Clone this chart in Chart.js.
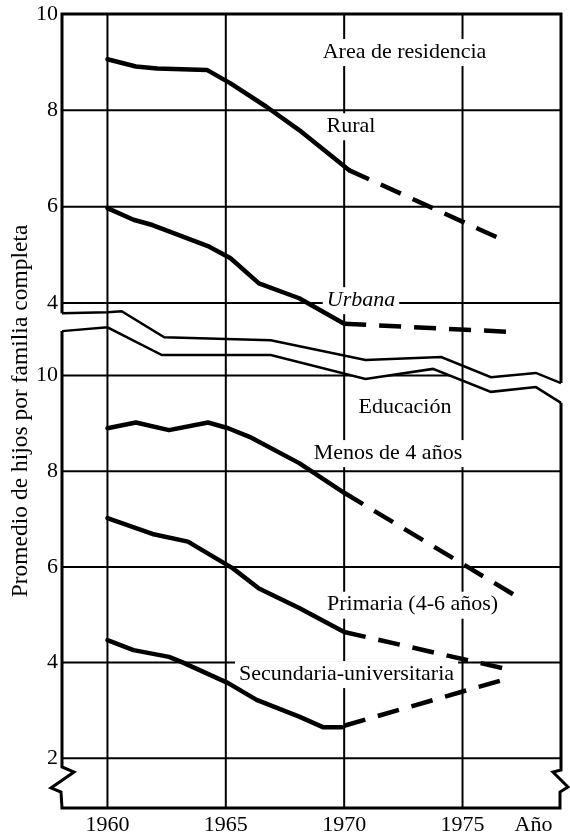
<!DOCTYPE html>
<html>
<head>
<meta charset="utf-8">
<script src="https://cdn.jsdelivr.net/npm/chart.js@4.4.0/dist/chart.umd.min.js"></script>
<style>
    html, body { margin: 0; padding: 0; background: #fff; }
    #wrap { position: relative; width: 570px; height: 837px; }
</style>
</head>
<body>
<div id="wrap"><canvas id="chart"></canvas></div>
<script>
// Axis ticks
const gridYears = [1960, 1965, 1970, 1975];
const xTickValues = [1960, 1965, 1970, 1975, 1978];
const xTickLabels = ["1960", "1965", "1970", "1975", "Año"];
const topTicks = [4, 6, 8, 10];
const bottomTicks = [2, 4, 6, 8, 10];

// Area de residencia (upper panel)
const ruralYears = [1960, 1961.2, 1962.1, 1964.2, 1965.2, 1966.7, 1968.1, 1970.2];
const ruralValues = [9.06, 8.91, 8.87, 8.84, 8.56, 8.08, 7.59, 6.76];
const ruralProjYears = [1970.2, 1976.7];
const ruralProjValues = [6.76, 5.31];

const urbanaYears = [1960, 1961.1, 1961.9, 1964.3, 1965.2, 1966.4, 1968.1, 1970];
const urbanaValues = [5.97, 5.73, 5.62, 5.17, 4.93, 4.41, 4.10, 3.57];
const urbanaProjYears = [1970, 1977.1];
const urbanaProjValues = [3.57, 3.40];

// Educación (lower panel)
const menosYears = [1960, 1961.2, 1962.6, 1964.25, 1965.1, 1966.0, 1968.1, 1970];
const menosValues = [8.90, 9.02, 8.86, 9.02, 8.90, 8.72, 8.17, 7.55];
const menosProjYears = [1970, 1977.2];
const menosProjValues = [7.55, 5.41];

const primariaYears = [1960, 1961.9, 1963.4, 1965.3, 1966.4, 1968.1, 1970];
const primariaValues = [7.02, 6.69, 6.53, 5.97, 5.55, 5.14, 4.64];
const primariaProjYears = [1970, 1977];
const primariaProjValues = [4.64, 3.85];

const secundariaYears = [1960, 1961.1, 1962.6, 1963.1, 1965.1, 1966.3, 1968.1, 1969.1, 1969.9];
const secundariaValues = [4.47, 4.26, 4.12, 4.02, 3.57, 3.22, 2.87, 2.65, 2.65];
const secundariaProjYears = [1970, 1977];
const secundariaProjValues = [2.68, 3.68];

// Broken axis: lower edge of the upper panel, upper edge of the lower panel
const upperEdgeYears = [1958.08, 1960, 1960.6, 1962.4, 1966.9, 1970.9, 1974.1, 1976.2, 1978.1, 1979.16];
const upperEdgeValues = [3.79, 3.81, 3.83, 3.29, 3.23, 2.82, 2.88, 2.46, 2.55, 2.34];
const lowerEdgeYears = [1958.08, 1960, 1962.3, 1966.9, 1970.9, 1973.75, 1976.2, 1978.1, 1979.16];
const lowerEdgeValues = [10.93, 11.01, 10.43, 10.43, 9.93, 10.14, 9.66, 9.76, 9.43];

// Text placed inside the plot (year, value, axis)
const notes = [
    { text: "Area de residencia", x: 1972.55, y: 9.21, axis: "yTop" },
    { text: "Rural", x: 1970.29, y: 7.67, axis: "yTop" },
    { text: "Urbana", x: 1970.71, y: 4.06, axis: "yTop", italic: true },
    { text: "Educación", x: 1972.57, y: 9.33, axis: "yBot" },
    { text: "Menos de 4 años", x: 1971.85, y: 8.38, axis: "yBot" },
    { text: "Primaria (4-6 años)", x: 1972.89, y: 5.21, axis: "yBot" },
    { text: "Secundaria-universitaria", x: 1970.1, y: 3.76, axis: "yBot" }
];

const FONT = "'Liberation Serif', 'DejaVu Serif', serif";
Chart.defaults.font.family = FONT;
Chart.defaults.color = "#000";

function toPoints(xs, ys) {
    return xs.map((x, i) => ({ x: x, y: ys[i] }));
}

function series(xs, ys, axis, dashed) {
    return {
        data: toPoints(xs, ys),
        yAxisID: axis,
        borderColor: "#000",
        borderWidth: 4.5,
        borderDash: dashed ? [22, 13] : [],
        borderCapStyle: dashed ? "butt" : "round",
        borderJoinStyle: "round",
        pointRadius: 0,
        tension: 0,
        fill: false
    };
}

function edge(xs, ys, axis) {
    return {
        data: toPoints(xs, ys),
        yAxisID: axis,
        borderColor: "#000",
        borderWidth: 2.5,
        borderJoinStyle: "miter",
        pointRadius: 0,
        tension: 0,
        fill: false,
        clip: false
    };
}

const datasets = [
    series(ruralYears, ruralValues, "yTop", false),
    series(ruralProjYears, ruralProjValues, "yTop", true),
    series(urbanaYears, urbanaValues, "yTop", false),
    series(urbanaProjYears, urbanaProjValues, "yTop", true),
    series(menosYears, menosValues, "yBot", false),
    series(menosProjYears, menosProjValues, "yBot", true),
    series(primariaYears, primariaValues, "yBot", false),
    series(primariaProjYears, primariaProjValues, "yBot", true),
    series(secundariaYears, secundariaValues, "yBot", false),
    series(secundariaProjYears, secundariaProjValues, "yBot", true),
    edge(upperEdgeYears, upperEdgeValues, "yTop"),
    edge(lowerEdgeYears, lowerEdgeValues, "yBot")
];
const upperEdgeIndex = datasets.length - 2;
const lowerEdgeIndex = datasets.length - 1;

function stroke(c, pts) {
    c.beginPath();
    c.moveTo(pts[0][0], pts[0][1]);
    pts.slice(1).forEach(p => c.lineTo(p[0], p[1]));
    c.stroke();
}

function clipTo(c, pts) {
    c.beginPath();
    c.moveTo(pts[0][0], pts[0][1]);
    pts.slice(1).forEach(p => c.lineTo(p[0], p[1]));
    c.closePath();
    c.clip();
}

// Grid, notes and frame of the two-panel (broken) chart
const brokenAxisPlugin = {
    id: "brokenAxis",
    beforeDatasetsDraw(chart) {
        const { ctx: c, chartArea: a, scales } = chart;
        const up = chart.getDatasetMeta(upperEdgeIndex).data.map(p => [p.x, p.y]);
        const low = chart.getDatasetMeta(lowerEdgeIndex).data.map(p => [p.x, p.y]);
        c.save();
        c.strokeStyle = "#000";
        c.lineWidth = 2;

        // vertical grid lines cross both panels
        gridYears.forEach(yr => {
            const px = scales.x.getPixelForValue(yr);
            stroke(c, [[px, a.top], [px, a.bottom]]);
        });

        // upper panel lines stay above its lower edge
        c.save();
        clipTo(c, [[a.left, a.top], [a.right, a.top]].concat(up.slice().reverse()));
        topTicks.forEach(v => {
            const py = scales.yTop.getPixelForValue(v);
            stroke(c, [[a.left, py], [a.right, py]]);
        });
        c.restore();

        // lower panel lines stay below its upper edge
        c.save();
        clipTo(c, low.concat([[a.right, a.bottom], [a.left, a.bottom]]));
        bottomTicks.forEach(v => {
            const py = scales.yBot.getPixelForValue(v);
            stroke(c, [[a.left, py], [a.right, py]]);
        });
        c.restore();

        // tick labels of the upper panel, same style as the lower axis
        c.fillStyle = "#000";
        c.font = "22px " + FONT;
        c.textAlign = "right";
        c.textBaseline = "middle";
        topTicks.forEach(v => {
            c.fillText(String(v), a.left - 4, scales.yTop.getPixelForValue(v));
        });

        // notes on a white ground
        c.textAlign = "center";
        notes.forEach(n => {
            c.font = (n.italic ? "italic " : "") + "22px " + FONT;
            const px = scales.x.getPixelForValue(n.x);
            const py = scales[n.axis].getPixelForValue(n.y);
            const w = c.measureText(n.text).width;
            c.fillStyle = "#fff";
            c.fillRect(px - w / 2 - 4, py - 13, w + 8, 27);
            c.fillStyle = "#000";
            c.fillText(n.text, px, py);
        });

        // frame with the break marks
        const L = a.left, R = a.right, T = a.top, B = a.bottom;
        c.lineWidth = 3;
        c.lineJoin = "miter";
        stroke(c, [[L, up[0][1]], [L, T], [R, T], [R, up[up.length - 1][1]]]);
        stroke(c, [[L, low[0][1]], [L, B - 41], [L + 12, B - 36], [L - 11, B - 20], [L - 1, B - 16], [L, B],
                   [R - 1, B], [R - 1, B - 16], [R + 7, B - 21], [R - 8, B - 36], [R, B - 38], [R, low[low.length - 1][1]]]);
        c.restore();
    }
};

function fixed(size, horizontal) {
    return function (scale) {
        if (horizontal) scale.height = size; else scale.width = size;
        scale.paddingTop = 0;
        scale.paddingBottom = 0;
        scale.paddingLeft = 0;
        scale.paddingRight = 0;
    };
}

const tickFont = { family: FONT, size: 22 };
const noGrid = { display: false, drawTicks: false, tickLength: 0 };

const ctx = document.getElementById("chart").getContext("2d");
const chart = new Chart(ctx, {
    type: "line",
    data: { datasets: datasets },
    plugins: [brokenAxisPlugin],
    options: {
        responsive: true,
        maintainAspectRatio: false,
        animation: false,
        layout: { padding: { top: 14, right: 9, left: 0, bottom: 0 } },
        plugins: {
            legend: { display: false },
            tooltip: { enabled: false }
        },
        scales: {
            x: {
                type: "linear",
                min: 1958.08,
                max: 1979.16,
                grid: noGrid,
                border: { display: false },
                afterBuildTicks: s => { s.ticks = xTickValues.map(v => ({ value: v })); },
                afterFit: fixed(29, true),
                ticks: {
                    font: tickFont,
                    padding: 4,
                    autoSkip: false,
                    maxRotation: 0,
                    callback: (v) => xTickLabels[xTickValues.indexOf(v)]
                }
            },
            yTop: {
                type: "linear",
                display: false,
                min: -6.48,
                max: 10
            },
            yBot: {
                type: "linear",
                position: "left",
                min: 0.96,
                max: 17.56,
                grid: noGrid,
                border: { display: false },
                afterBuildTicks: s => { s.ticks = bottomTicks.map(v => ({ value: v })); },
                afterFit: fixed(62, false),
                ticks: { font: tickFont, padding: 4, autoSkip: false, callback: v => String(v) },
                title: {
                    display: true,
                    text: "Promedio de hijos por familia completa",
                    font: { family: FONT, size: 23.5 },
                    padding: { top: 7, bottom: 0 }
                }
            }
        }
    }
});
</script>
</body>
</html>
